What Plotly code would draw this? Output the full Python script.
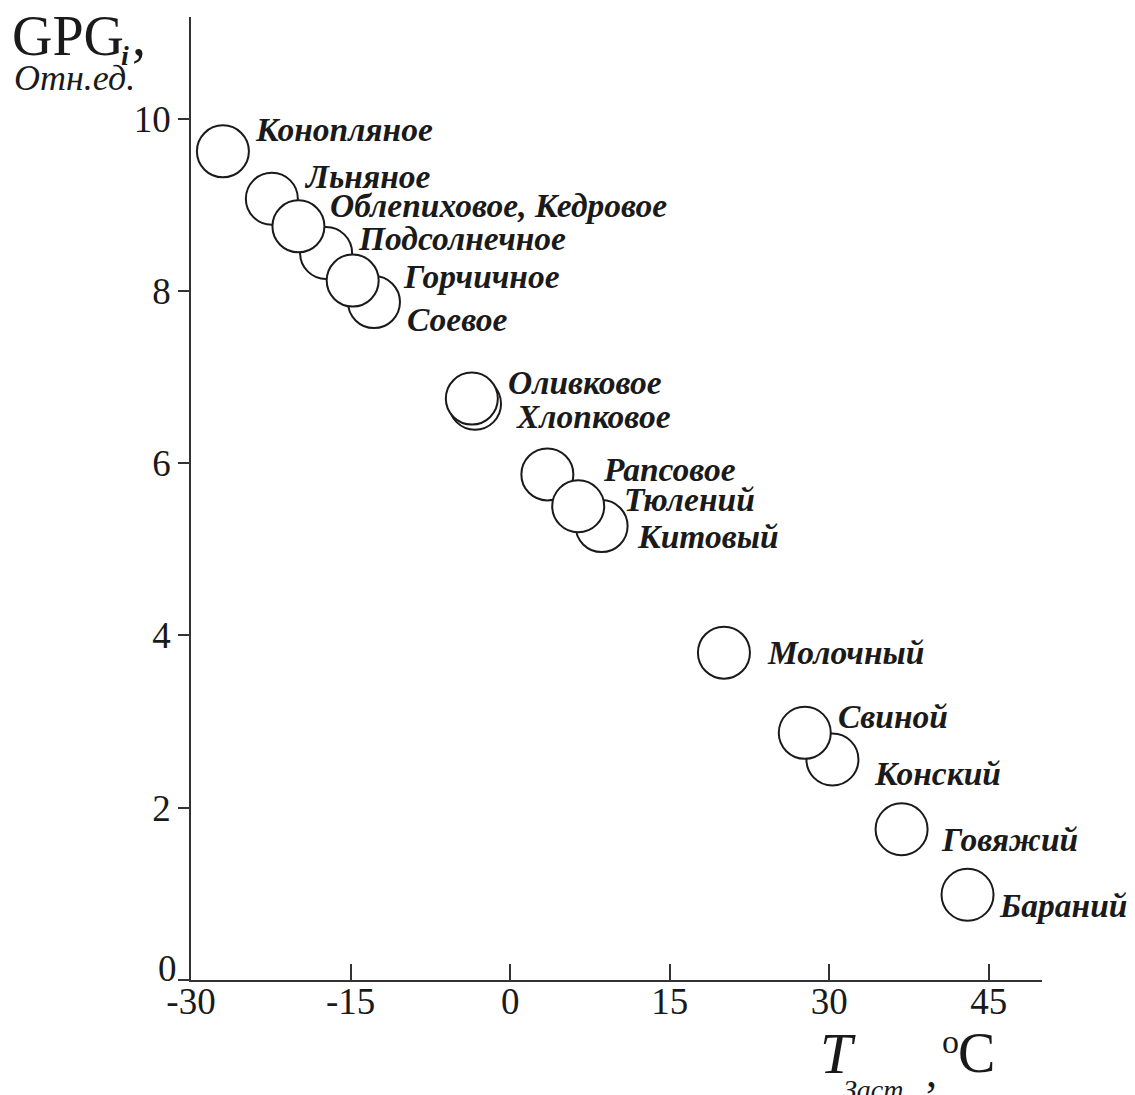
import plotly.graph_objects as go

# ---- data (drawing order: later items are drawn on top) ----
oils = ["Конопляное", "Льняное", "Подсолнечное", "Облепиховое, Кедровое", "Соевое",
        "Горчичное", "Хлопковое", "Оливковое", "Рапсовое", "Китовый", "Тюлений",
        "Молочный", "Конский", "Свиной", "Говяжий", "Бараний"]
t_zast = [-27.0, -22.4, -17.3, -19.9, -12.8, -14.8, -3.3, -3.6, 3.5, 8.6, 6.4,
          20.1, 30.3, 27.7, 36.8, 43.0]
gpg = [9.62, 9.07, 8.44, 8.75, 7.87, 8.12, 6.69, 6.75, 5.87, 5.27, 5.50,
       3.80, 2.56, 2.87, 1.75, 0.99]

x_ticks = [-30, -15, 0, 15, 30, 45]
y_ticks = [0, 2, 4, 6, 8, 10]

# label offsets in pixels (dx right, dy up) relative to each circle
label_dx = [30, 30, 30, 30, 31, 48, 39, 34, 54, 33, 44, 41, 40, 31, 37, 29]
label_dy = [22, 22, 15, 21, -17, 4, -13, 16, 5, -10, 7, 0, -14, 16, -10, -11]

OFF = 8                     # page (body) margin of the html page
W, H = 1135 - OFF, 1095 - OFF
X0, X1, Y0, Y1 = 191, 1042, 17, 980   # plot area in page pixels
L, T = X0 - OFF, Y0 - OFF
R, B = W + OFF - X1, H + OFF - Y1
PW, PH = X1 - X0, Y1 - Y0
FONT = "Liberation Serif"
INK = "#1a1a1a"


def px(xp):
    return (xp - X0) / PW


def py(yp):
    return (Y1 - yp) / PH


fig = go.Figure()
fig.add_trace(go.Scatter(
    x=t_zast, y=gpg, mode="markers",
    marker=dict(size=52, color="white", line=dict(color=INK, width=2)),
    hoverinfo="skip", showlegend=False, cliponaxis=False,
))

ann = []
for name, xv, yv, dx, dy in zip(oils, t_zast, gpg, label_dx, label_dy):
    ann.append(dict(x=xv, y=yv, xref="x", yref="y", text="<b><i>%s</i></b>" % name,
                    showarrow=False, xanchor="left", yanchor="middle",
                    xshift=dx, yshift=dy,
                    font=dict(family=FONT, size=33.5, color=INK)))

# shifted "0" label of the y axis
ann.append(dict(x=0, y=y_ticks[0], xref="paper", yref="y", text=str(y_ticks[0]),
                showarrow=False, xanchor="right", yanchor="middle", xshift=-12, yshift=12,
                font=dict(family=FONT, size=37, color=INK)))

# title pieces
titles = [
    dict(x=px(10), y=py(36), text="GPG", font=dict(size=56)),
    dict(x=px(119), y=py(55), text="<b><i>i</i></b>", font=dict(size=28)),
    dict(x=px(130), y=py(36), text=",", font=dict(size=56)),
    dict(x=px(12), y=py(78), text="<i>Отн.ед.</i>", font=dict(size=36)),
    dict(x=px(818), y=py(1053), text="<i>T</i>", font=dict(size=58)),
    dict(x=px(841), y=py(1089), text="<i>Заст</i>", font=dict(size=28)),
    dict(x=px(924), y=py(1072), text=",", font=dict(size=44)),
    dict(x=px(940), y=py(1041), text="o", font=dict(size=34)),
    dict(x=px(956), y=py(1053), text="C", font=dict(size=56)),
]
for a in titles:
    a.update(xref="paper", yref="paper", showarrow=False, xanchor="left", yanchor="middle")
    a["font"].update(family=FONT, color=INK)
ann += titles

fig.update_layout(
    width=W, height=H,
    margin=dict(l=L, r=R, t=T, b=B, pad=0),
    paper_bgcolor="white", plot_bgcolor="white",
    font=dict(family=FONT, color=INK),
    annotations=ann,
    xaxis=dict(range=[-30, 50], tickvals=x_ticks, ticktext=[str(v) for v in x_ticks],
               ticks="inside", ticklen=16, tickwidth=1.5, tickcolor="#333",
               showline=True, linecolor="#333", linewidth=1.5,
               showgrid=False, zeroline=False, ticklabelstandoff=-12,
               tickfont=dict(family=FONT, size=37, color=INK)),
    yaxis=dict(range=[0, 11.18], tickvals=y_ticks,
               ticktext=[""] + [str(v) for v in y_ticks[1:]],
               ticks="outside", ticklen=11, tickwidth=1.5, tickcolor="#333",
               showline=True, linecolor="#333", linewidth=1.5,
               showgrid=False, zeroline=False,
               tickfont=dict(family=FONT, size=37, color=INK)),
)

fig.write_html("out.html")
